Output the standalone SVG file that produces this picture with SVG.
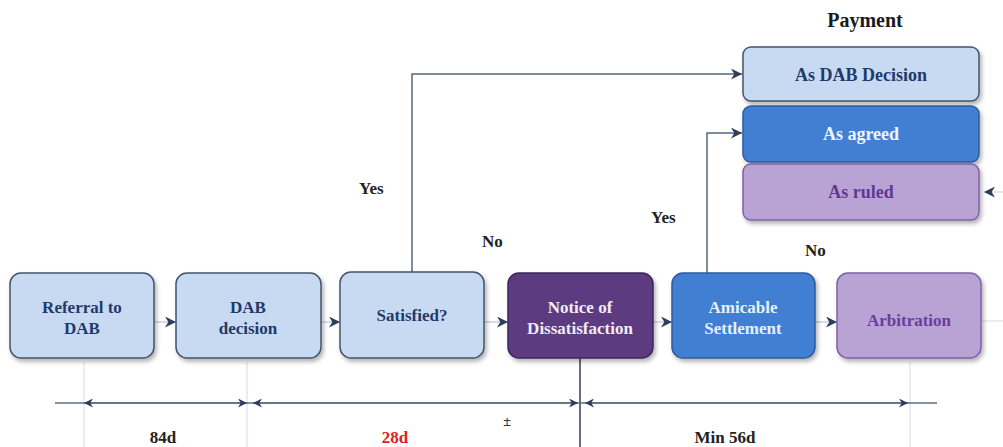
<svg xmlns="http://www.w3.org/2000/svg" width="1003" height="447" viewBox="0 0 1003 447">
<defs>
<style>
.t{font-family:"Liberation Serif","Times New Roman",serif;font-weight:bold;font-size:17px;text-anchor:middle}
.p{font-size:18px}
.lbl{font-family:"Liberation Serif","Times New Roman",serif;font-weight:bold;font-size:17px;fill:#222}
.con{fill:none;stroke:#55657f;stroke-width:1.5}
.dim{fill:none;stroke:#5d6d86;stroke-width:1.5}
.guide{stroke:#d5dbe3;stroke-width:1}
.light{fill:#c8daf2;stroke:#44546a;stroke-width:1.5}
.dark{fill:#5b3a80;stroke:#3e2760;stroke-width:1.5}
.blue{fill:#3f7fd2;stroke:#2c5c9e;stroke-width:1.5}
.lav{fill:#b9a3d4;stroke:#7d62a6;stroke-width:1.5}
</style>
<marker id="ah" viewBox="0 0 10 10" refX="10" refY="5" markerWidth="11" markerHeight="11" markerUnits="userSpaceOnUse" orient="auto">
<path d="M0,0 L10,5 L0,10 L3,5 Z" fill="#2f3d5c"/>
</marker>
<marker id="ahs" viewBox="0 0 10 10" refX="10" refY="5" markerWidth="9" markerHeight="9" markerUnits="userSpaceOnUse" orient="auto-start-reverse">
<path d="M0,0 L10,5 L0,10 L3,5 Z" fill="#2f3d5c"/>
</marker>
<filter id="sh" x="-10%" y="-10%" width="125%" height="130%">
<feDropShadow dx="2" dy="3" stdDeviation="2" flood-color="#000" flood-opacity="0.3"/>
</filter>
</defs>
<rect width="1003" height="447" fill="#ffffff"/>

<g id="guides">
<line class="guide" x1="84" y1="362" x2="84" y2="447"/>
<line class="guide" x1="247" y1="362" x2="247" y2="447"/>
<line class="guide" x1="910" y1="362" x2="910" y2="447"/>
<line class="guide" x1="981" y1="321" x2="1003" y2="321"/>
</g>

<g id="connectors">
<line class="con" x1="154" y1="322" x2="176" y2="322" stroke-opacity="0.3" marker-end="url(#ah)"/>
<line class="con" x1="321" y1="322" x2="340" y2="322" stroke-opacity="0.3" marker-end="url(#ah)"/>
<line class="con" x1="484" y1="322" x2="508" y2="322" stroke-opacity="0.3" marker-end="url(#ah)"/>
<line class="con" x1="653" y1="322" x2="672" y2="322" stroke-opacity="0.3" marker-end="url(#ah)"/>
<line class="con" x1="815" y1="322" x2="837" y2="322" stroke-opacity="0.3" marker-end="url(#ah)"/>
<polyline class="con" points="412,272 412,74 742,74" marker-end="url(#ah)"/>
<polyline class="con" points="707,273 707,133 742,133" marker-end="url(#ah)"/>
<line class="con" x1="1003" y1="192" x2="984" y2="192" stroke-opacity="0.2" marker-end="url(#ah)"/>
<line x1="580" y1="358" x2="580" y2="447" stroke="#2f3d5c" stroke-width="1.5"/>
<line class="dim" x1="55" y1="403" x2="937" y2="403"/>
<line class="dim" x1="84" y1="403" x2="247" y2="403" marker-start="url(#ahs)" marker-end="url(#ahs)"/>
<line class="dim" x1="253" y1="403" x2="578" y2="403" marker-start="url(#ahs)" marker-end="url(#ahs)"/>
<line class="dim" x1="585" y1="403" x2="908" y2="403" marker-start="url(#ahs)" marker-end="url(#ahs)"/>
</g>

<g id="referral">
<rect class="light" x="10" y="273" width="144" height="85" rx="11" filter="url(#sh)"/>
<text class="t" x="82" y="313" fill="#1f3a6b">Referral to</text>
<text class="t" x="82" y="334" fill="#1f3a6b">DAB</text>
</g>
<g id="dab-decision">
<rect class="light" x="176" y="273" width="145" height="85" rx="11" filter="url(#sh)"/>
<text class="t" x="248" y="313" fill="#1f3a6b">DAB</text>
<text class="t" x="248" y="334" fill="#1f3a6b">decision</text>
</g>
<g id="satisfied">
<rect class="light" x="340" y="272" width="144" height="86" rx="11" filter="url(#sh)"/>
<text class="t" x="412" y="321" fill="#1f3a6b">Satisfied?</text>
</g>
<g id="notice">
<rect class="dark" x="508" y="273" width="145" height="85" rx="11" filter="url(#sh)"/>
<text class="t" x="580" y="313" fill="#f1ecf7">Notice of</text>
<text class="t" x="580" y="334" fill="#f1ecf7">Dissatisfaction</text>
</g>
<g id="amicable">
<rect class="blue" x="672" y="273" width="143" height="85" rx="11" filter="url(#sh)"/>
<text class="t" x="743" y="313" fill="#e6f0fc">Amicable</text>
<text class="t" x="743" y="334" fill="#e6f0fc">Settlement</text>
</g>
<g id="arbitration">
<rect class="lav" x="837" y="273" width="144" height="85" rx="11" filter="url(#sh)"/>
<text class="t" x="909" y="326" fill="#6a3d9e">Arbitration</text>
</g>

<g id="payment">
<text class="t" x="865" y="27" style="font-size:20px" fill="#1a1a1a">Payment</text>
</g>
<g id="as-dab-decision">
<rect class="light" x="743" y="47" width="236" height="54" rx="8" filter="url(#sh)"/>
<text class="t p" x="861" y="81" fill="#1f3a6b">As DAB Decision</text>
</g>
<g id="as-agreed">
<rect class="blue" x="743" y="106" width="236" height="56" rx="8" filter="url(#sh)"/>
<text class="t p" x="861" y="140" fill="#eef4fc">As agreed</text>
</g>
<g id="as-ruled">
<rect class="lav" x="743" y="164" width="236" height="56" rx="8" filter="url(#sh)"/>
<text class="t p" x="861" y="198" fill="#5e3a90">As ruled</text>
</g>

<g id="labels">
<text class="lbl" x="359" y="194">Yes</text>
<text class="lbl" x="651" y="223">Yes</text>
<text class="lbl" x="482" y="247">No</text>
<text class="lbl" x="805" y="256">No</text>
<text class="lbl" x="163" y="443" text-anchor="middle">84d</text>
<text class="lbl" x="395" y="443" text-anchor="middle" style="fill:#e02020">28d</text>
<text class="lbl" x="725" y="443" text-anchor="middle">Min 56d</text>
<text class="lbl" x="507" y="426" text-anchor="middle" style="font-size:14px;fill:#333">±</text>
</g>
</svg>
